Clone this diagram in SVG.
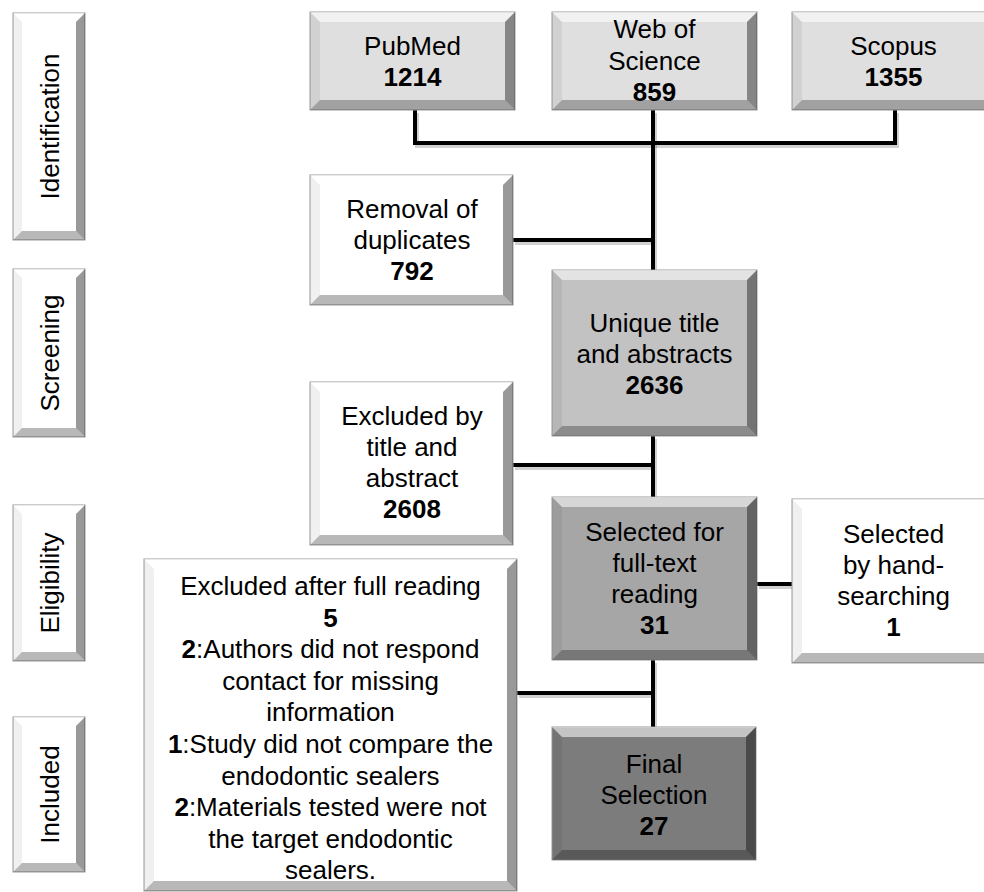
<svg xmlns="http://www.w3.org/2000/svg" width="984" height="892" viewBox="0 0 984 892">
<style>
  .t { font-family: "Liberation Sans", Arial, sans-serif; font-size: 26px; fill: #000; text-anchor: middle; }
  .b { font-weight: bold; }
  .box { stroke: #9a9a9a; stroke-width: 1; }
  .bt { fill: #ffffff; fill-opacity: 0.55; }
  .bl { fill: #000000; fill-opacity: 0.06; }
  .br { fill: #000000; fill-opacity: 0.40; }
  .bb { fill: #000000; fill-opacity: 0.28; }
  .c { fill: none; stroke: #000; stroke-width: 4; stroke-linecap: square; }
  .cs { fill: none; stroke: #000; stroke-opacity: 0.18; stroke-width: 4; }
</style>

<!-- stage labels -->
<g id="stage-identification">
  <rect class="box" x="13" y="13" width="72" height="227" fill="#ffffff"/>
  <polygon class="bt" points="13,13 85,13 76,22 22,22"/>
  <polygon class="bl" points="13,13 22,22 22,231 13,240"/>
  <polygon class="br" points="85,13 85,240 76,231 76,22"/>
  <polygon class="bb" points="13,240 85,240 76,231 22,231"/>
  <text class="t" transform="translate(58.5,126.5) rotate(-90)">Identification</text>
</g>
<g id="stage-screening">
  <rect class="box" x="13" y="269" width="72" height="168" fill="#ffffff"/>
  <polygon class="bt" points="13,269 85,269 76,278 22,278"/>
  <polygon class="bl" points="13,269 22,278 22,428 13,437"/>
  <polygon class="br" points="85,269 85,437 76,428 76,278"/>
  <polygon class="bb" points="13,437 85,437 76,428 22,428"/>
  <text class="t" transform="translate(58.5,353) rotate(-90)">Screening</text>
</g>
<g id="stage-eligibility">
  <rect class="box" x="13" y="505" width="72" height="156" fill="#ffffff"/>
  <polygon class="bt" points="13,505 85,505 76,514 22,514"/>
  <polygon class="bl" points="13,505 22,514 22,652 13,661"/>
  <polygon class="br" points="85,505 85,661 76,652 76,514"/>
  <polygon class="bb" points="13,661 85,661 76,652 22,652"/>
  <text class="t" transform="translate(58.5,583) rotate(-90)">Eligibility</text>
</g>
<g id="stage-included">
  <rect class="box" x="13" y="717" width="72" height="155" fill="#ffffff"/>
  <polygon class="bt" points="13,717 85,717 76,726 22,726"/>
  <polygon class="bl" points="13,717 22,726 22,863 13,872"/>
  <polygon class="br" points="85,717 85,872 76,863 76,726"/>
  <polygon class="bb" points="13,872 85,872 76,863 22,863"/>
  <text class="t" transform="translate(58.5,794.5) rotate(-90)">Included</text>
</g>

<!-- connectors -->
<g id="connectors">
  <g transform="translate(2,3)">
    <path class="cs" d="M415,110 V143 H895 V110"/>
    <path class="cs" d="M653,110 V270"/>
    <path class="cs" d="M513,240 H653"/>
    <path class="cs" d="M653,436 V497"/>
    <path class="cs" d="M513,465 H653"/>
    <path class="cs" d="M757,584 H792"/>
    <path class="cs" d="M653,660 V727"/>
    <path class="cs" d="M517,693 H653"/>
  </g>
  <path class="c" d="M415,110 V143 H895 V110"/>
  <path class="c" d="M653,110 V270"/>
  <path class="c" d="M513,240 H653"/>
  <path class="c" d="M653,436 V497"/>
  <path class="c" d="M513,465 H653"/>
  <path class="c" d="M757,584 H792"/>
  <path class="c" d="M653,660 V727"/>
  <path class="c" d="M517,693 H653"/>
</g>

<!-- nodes -->
<g id="pubmed">
  <rect class="box" x="310" y="12" width="205" height="98" fill="#dfdfdf"/>
  <polygon class="bt" points="310,12 515,12 505,22 320,22"/>
  <polygon class="bl" points="310,12 320,22 320,100 310,110"/>
  <polygon class="br" points="515,12 515,110 505,100 505,22"/>
  <polygon class="bb" points="310,110 515,110 505,100 320,100"/>
  <text class="t" x="412.5" y="55">PubMed</text>
  <text class="t b" x="412.5" y="86">1214</text>
</g>
<g id="web-of-science">
  <rect class="box" x="552" y="12" width="205" height="98" fill="#dfdfdf"/>
  <polygon class="bt" points="552,12 757,12 747,22 562,22"/>
  <polygon class="bl" points="552,12 562,22 562,100 552,110"/>
  <polygon class="br" points="757,12 757,110 747,100 747,22"/>
  <polygon class="bb" points="552,110 757,110 747,100 562,100"/>
  <text class="t" x="654.5" y="38">Web of</text>
  <text class="t" x="654.5" y="70">Science</text>
  <text class="t b" x="654.5" y="101">859</text>
</g>
<g id="scopus">
  <rect class="box" x="792" y="12" width="205" height="98" fill="#dfdfdf"/>
  <polygon class="bt" points="792,12 997,12 987,22 802,22"/>
  <polygon class="bl" points="792,12 802,22 802,100 792,110"/>
  <polygon class="br" points="997,12 997,110 987,100 987,22"/>
  <polygon class="bb" points="792,110 997,110 987,100 802,100"/>
  <text class="t" x="893.5" y="55">Scopus</text>
  <text class="t b" x="893.5" y="86">1355</text>
</g>
<g id="removal-duplicates">
  <rect class="box" x="310" y="175" width="203" height="130" fill="#ffffff"/>
  <polygon class="bt" points="310,175 513,175 503,185 320,185"/>
  <polygon class="bl" points="310,175 320,185 320,295 310,305"/>
  <polygon class="br" points="513,175 513,305 503,295 503,185"/>
  <polygon class="bb" points="310,305 513,305 503,295 320,295"/>
  <text class="t" x="412" y="218">Removal of</text>
  <text class="t" x="412" y="249">duplicates</text>
  <text class="t b" x="412" y="280">792</text>
</g>
<g id="unique-title">
  <rect class="box" x="552" y="270" width="205" height="166" fill="#c2c2c2"/>
  <polygon class="bt" points="552,270 757,270 747,280 562,280"/>
  <polygon class="bl" points="552,270 562,280 562,426 552,436"/>
  <polygon class="br" points="757,270 757,436 747,426 747,280"/>
  <polygon class="bb" points="552,436 757,436 747,426 562,426"/>
  <text class="t" x="654.5" y="332">Unique title</text>
  <text class="t" x="654.5" y="363">and abstracts</text>
  <text class="t b" x="654.5" y="394">2636</text>
</g>
<g id="excluded-title-abstract">
  <rect class="box" x="310" y="382" width="203" height="163" fill="#ffffff"/>
  <polygon class="bt" points="310,382 513,382 503,392 320,392"/>
  <polygon class="bl" points="310,382 320,392 320,535 310,545"/>
  <polygon class="br" points="513,382 513,545 503,535 503,392"/>
  <polygon class="bb" points="310,545 513,545 503,535 320,535"/>
  <text class="t" x="412" y="425">Excluded by</text>
  <text class="t" x="412" y="456">title and</text>
  <text class="t" x="412" y="487">abstract</text>
  <text class="t b" x="412" y="518">2608</text>
</g>
<g id="selected-full-text">
  <rect class="box" x="552" y="497" width="205" height="163" fill="#a6a6a6"/>
  <polygon class="bt" points="552,497 757,497 747,507 562,507"/>
  <polygon class="bl" points="552,497 562,507 562,650 552,660"/>
  <polygon class="br" points="757,497 757,660 747,650 747,507"/>
  <polygon class="bb" points="552,660 757,660 747,650 562,650"/>
  <text class="t" x="654.5" y="541">Selected for</text>
  <text class="t" x="654.5" y="572">full-text</text>
  <text class="t" x="654.5" y="603">reading</text>
  <text class="t b" x="654.5" y="634">31</text>
</g>
<g id="hand-searching">
  <rect class="box" x="792" y="499" width="205" height="164" fill="#ffffff"/>
  <polygon class="bt" points="792,499 997,499 987,509 802,509"/>
  <polygon class="bl" points="792,499 802,509 802,653 792,663"/>
  <polygon class="br" points="997,499 997,663 987,653 987,509"/>
  <polygon class="bb" points="792,663 997,663 987,653 802,653"/>
  <text class="t" x="893.5" y="543">Selected</text>
  <text class="t" x="893.5" y="574">by hand-</text>
  <text class="t" x="893.5" y="605">searching</text>
  <text class="t b" x="893.5" y="636">1</text>
</g>
<g id="excluded-full-reading">
  <rect class="box" x="144" y="559" width="373" height="332" fill="#ffffff"/>
  <polygon class="bt" points="144,559 517,559 507,569 154,569"/>
  <polygon class="bl" points="144,559 154,569 154,881 144,891"/>
  <polygon class="br" points="517,559 517,891 507,881 507,569"/>
  <polygon class="bb" points="144,891 517,891 507,881 154,881"/>
  <text class="t" x="330.5" y="595">Excluded after full reading</text>
  <text class="t b" x="330.5" y="626.5">5</text>
  <text class="t" x="330.5" y="658"><tspan class="b">2</tspan>:Authors did not respond</text>
  <text class="t" x="330.5" y="689.5">contact for missing</text>
  <text class="t" x="330.5" y="721">information</text>
  <text class="t" x="330.5" y="753"><tspan class="b">1</tspan>:Study did not compare the</text>
  <text class="t" x="330.5" y="784.5">endodontic sealers</text>
  <text class="t" x="330.5" y="816"><tspan class="b">2</tspan>:Materials tested were not</text>
  <text class="t" x="330.5" y="847.5">the target endodontic</text>
  <text class="t" x="330.5" y="879">sealers.</text>
</g>
<g id="final-selection">
  <rect class="box" x="552" y="727" width="204" height="133" fill="#7c7c7c"/>
  <polygon class="bt" points="552,727 756,727 746,737 562,737"/>
  <polygon class="bl" points="552,727 562,737 562,850 552,860"/>
  <polygon class="br" points="756,727 756,860 746,850 746,737"/>
  <polygon class="bb" points="552,860 756,860 746,850 562,850"/>
  <text class="t" x="654" y="772.5">Final</text>
  <text class="t" x="654" y="803.5">Selection</text>
  <text class="t b" x="654" y="834.5">27</text>
</g>
</svg>
